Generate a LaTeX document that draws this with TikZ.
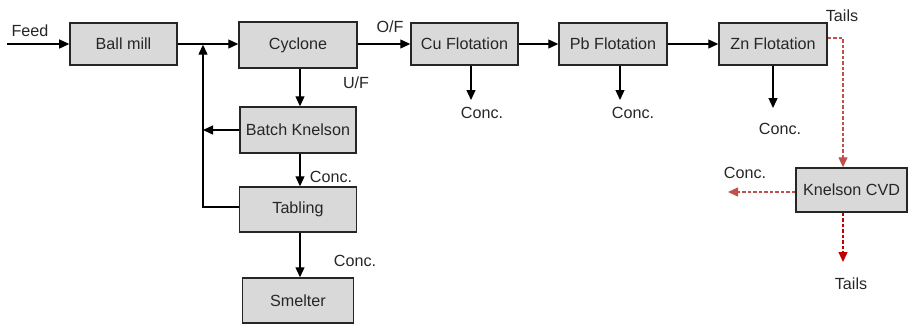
\documentclass[tikz,border=0pt]{standalone}
\usepackage{fontspec}
\setmainfont{Liberation Sans}
\usepackage{tikz}
\usepackage{color}
\usetikzlibrary{arrows.meta}
\definecolor{boxfill}{RGB}{217,217,217}
\definecolor{boxline}{RGB}{38,38,38}
\definecolor{cvdred}{RGB}{192,80,77}
\definecolor{tailred}{RGB}{192,0,0}
\begin{document}
\begin{tikzpicture}[x=1bp,y=-1bp,
    unit/.style={draw=boxline,fill=boxfill,line width=1.5bp,inner sep=0pt,minimum height=44bp},
    flow/.style={line width=1.3bp,-{Triangle[length=10bp,width=9bp]}},
    redflow/.style={flow,dash pattern=on 3.5bp off 2bp}]
                \tikzstyle{every node}+=[font=\fontsize{16.2}{19}\selectfont,text=black!85]
                \useasboundingbox (0,0) rectangle (908,324);
                \node [unit,minimum width=107bp,minimum height=42bp] (ball) at (123.5,44) {Ball mill};
                \node [unit,minimum width=118bp,minimum height=46bp] (cyc) at (298,45) {Cyclone};
                \node [unit,minimum width=116bp,minimum height=46bp] (bk) at (298,130) {Batch Knelson};
                \node [unit,minimum width=117bp,minimum height=45bp] (tab) at (298,209.5) {Tabling};
                \node [unit,minimum width=111bp,minimum height=45bp] (smelt) at (298,300.5) {Smelter};
                \node [unit,minimum width=107bp,minimum height=42bp] (cu) at (464.5,44) {Cu Flotation};
                \node [unit,minimum width=108bp,minimum height=42bp] (pb) at (613,44) {Pb Flotation};
                \node [unit,minimum width=108bp,minimum height=42bp] (zn) at (773,44) {Zn Flotation};
                \node [unit,minimum width=111bp,minimum height=44bp] (cvd) at (851.5,190) {Knelson CVD};
                % free ends
                \coordinate (feed) at (7,44);
                \coordinate (join) at (203,44);
                \coordinate (cuend) at (471,100);
                \coordinate (pbend) at (620,100);
                \coordinate (znend) at (773,108);
                \coordinate (zntail) at (843,38);
                \coordinate (cvdend) at (728,192);
                \coordinate (cvdtail) at (843,262);
                % main line
                \draw [flow] (feed) -- (ball.west);
                \draw (30,31) node {Feed};
                \draw [line width=1.3bp] (ball.east) -- (join);
                \draw [flow] (join) -- (cyc.west |- join);
                \draw [flow] (cyc.east |- join) -- (cu.west);
                \draw (390,27) node {O/F};
                \draw [flow] (cu.east) -- (pb.west);
                \draw [flow] (pb.east) -- (zn.west);
                \draw [flow] (cu.south -| cuend) -- (cuend);
                \draw (482,113) node {Conc.};
                \draw [flow] (pb.south -| pbend) -- (pbend);
                \draw (633,113) node {Conc.};
                \draw [flow] (zn.south -| znend) -- (znend);
                \draw (780,129) node {Conc.};
                % gravity circuit
                \draw [flow] (cyc.south -| 300,0) -- (bk.north -| 300,0);
                \draw (356,83) node {U/F};
                \draw [flow] (bk.west) -- (bk.west -| join);
                \draw [flow] (bk.south -| 300,0) -- (tab.north -| 300,0);
                \draw (331,177) node {Conc.};
                \draw [flow] (tab.west |- 0,207) -| ([yshift=-0.7bp]join);
                \draw [flow] (tab.south -| 300,0) -- (smelt.north -| 300,0);
                \draw (355,261) node {Conc.};
                % Knelson CVD on zinc tails
                \draw (842,16) node {Tails};
                \draw [redflow,draw=cvdred] (zn.east |- zntail) -- (zntail) -- (zntail |- cvd.north);
                \draw [redflow,draw=cvdred] (cvd.west |- cvdend) -- (cvdend);
                \draw (745,173) node {Conc.};
                \draw [redflow,draw=tailred] (zntail |- cvd.south) -- (cvdtail);
                \draw (851,284) node {Tails};
              \end{tikzpicture}
\end{document}
